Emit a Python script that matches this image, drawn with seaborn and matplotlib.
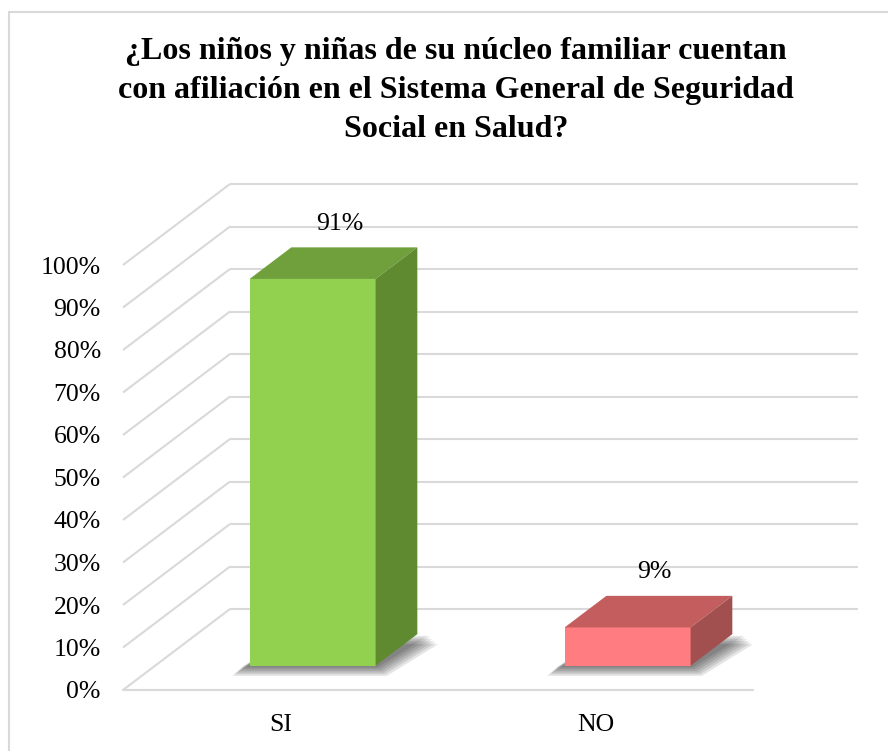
import matplotlib
matplotlib.use("Agg")
import matplotlib.pyplot as plt
from matplotlib.patches import Polygon, Rectangle
from matplotlib.ticker import PercentFormatter
import numpy as np
import pandas as pd
import seaborn as sns

# data
categories = ["SI", "NO"]
values = [0.91, 0.09]
value_labels = ["91%", "9%"]
front_colors = ["#92D050", "#FF7C80"]
top_colors = ["#70A03C", "#C45E5E"]
side_colors = ["#5F8A30", "#A24F4F"]
yticks = np.arange(0, 1.01, 0.1)

title = ("¿Los niños y niñas de su núcleo familiar cuentan\n"
         "con afiliación en el Sistema General de Seguridad\n"
         "Social en Salud?")

sns.set_style("white")
plt.rcParams["font.family"] = ["Liberation Serif", "DejaVu Serif"]
plt.rcParams["text.color"] = "black"
plt.rcParams["xtick.color"] = "black"
plt.rcParams["ytick.color"] = "black"

W, H = 888, 751
fig = plt.figure(figsize=(W / 100, H / 100), dpi=100)
ax = fig.add_axes([123 / W, (H - 690) / H, (858 - 123) / W, (690 - 182) / H])

df = pd.DataFrame({"cat": categories, "val": values})
sns.barplot(data=df, x="cat", y="val", hue="cat", palette=front_colors,
            saturation=1, width=0.4, legend=False, ax=ax, zorder=4,
            linewidth=0)

ax.set_xlim(-0.5, -0.5 + (858 - 123) / 315)
ax.set_ylim(0, (690 - 182) / 425)

# depth of the 3d box, in data units (wall depth 107px right, 81px up)
xr = ax.get_xlim()[1] - ax.get_xlim()[0]
yr = ax.get_ylim()[1] - ax.get_ylim()[0]
ux = 107 / (ax.bbox.width / xr)
uy = 81 / (ax.bbox.height / yr)
f0, f1 = 0.30, 0.69
grid_c = "#D9D9D9"

# walls / gridlines
x_left = -0.5
x_floor_right = len(categories) - 0.5
for v in yticks:
    ax.plot([x_left, x_left + ux], [v, v + uy], color=grid_c, lw=1.5,
            zorder=1, clip_on=False, solid_capstyle="butt")
    ax.plot([x_left + ux, ax.get_xlim()[1]], [v + uy, v + uy], color=grid_c,
            lw=1.5, zorder=1, clip_on=False, solid_capstyle="butt")
ax.plot([x_left, x_floor_right], [0, 0], color=grid_c, lw=1.5, zorder=1,
        clip_on=False)

# 3d bars
for i, p in enumerate(ax.patches):
    x0 = p.get_x() + f0 * ux
    y0 = f0 * uy
    w = p.get_width()
    h = p.get_height()
    p.set_xy((x0, y0))
    d = f1 - f0
    dx, dy = d * ux, d * uy
    # soft shadow on the floor
    for k in range(6, 0, -1):
        ex = k * 0.006
        ey = k * 0.004
        shadow = Polygon([(x0 - ex - 0.02, y0 - ey), (x0 + w + ex, y0 - ey),
                          (x0 + w + dx + ex + 0.03, y0 + dy - ey),
                          (x0 + dx - ex, y0 + dy - ey)],
                         closed=True, fc="black", ec="none", alpha=0.1,
                         zorder=2)
        ax.add_patch(shadow)
    top = Polygon([(x0, y0 + h), (x0 + w, y0 + h), (x0 + w + dx, y0 + h + dy),
                   (x0 + dx, y0 + h + dy)], closed=True, fc=top_colors[i],
                  ec="none", zorder=4, clip_on=False)
    side = Polygon([(x0 + w, y0), (x0 + w, y0 + h), (x0 + w + dx, y0 + h + dy),
                    (x0 + w + dx, y0 + dy)], closed=True, fc=side_colors[i],
                   ec="none", zorder=4, clip_on=False)
    ax.add_patch(top)
    ax.add_patch(side)
    ax.annotate(value_labels[i], (i + 0.55 * ux, y0 + h + dy),
                xytext=(0, 17), textcoords="offset points", ha="center",
                va="center", fontsize=18.5, color="black",
                annotation_clip=False)

ax.set_yticks(yticks)
ax.yaxis.set_major_formatter(PercentFormatter(1.0, decimals=0))
ax.tick_params(axis="y", length=0, pad=16, labelsize=18.5)
ax.tick_params(axis="x", length=0, pad=17, labelsize=18.5)
ax.set_xlabel("")
ax.set_ylabel("")
for s in ax.spines.values():
    s.set_visible(False)
ax.grid(False)

fig.text(456 / W, 1 - 37 / H, title, ha="center", va="top", fontsize=23,
         fontweight="bold", linespacing=1.46, color="black")

fig.add_artist(Rectangle((9 / W, -0.1), 1.2, (H - 12) / H + 0.1,
                         transform=fig.transFigure, fill=False, ec=grid_c,
                         lw=1.5))

fig.savefig("out.png", dpi=100)
